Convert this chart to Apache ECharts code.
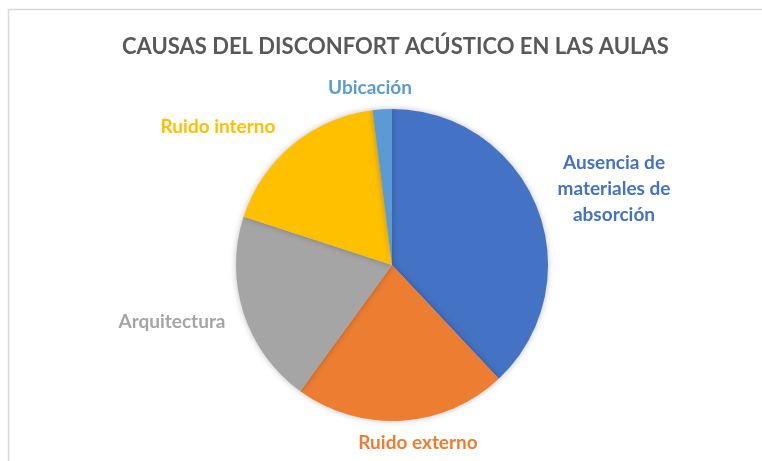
<!DOCTYPE html>
<html lang="es">
<head>
    <meta charset="UTF-8">
    <title>Causas del disconfort acústico</title>
    <style>
        html,body{margin:0;padding:0;background:#fff;}
        #main{width:762px;height:461px;}
    </style>
    <script type="text/javascript" src="https://cdn.jsdelivr.net/npm/echarts@6/dist/echarts.min.js"></script>
</head>
<body>
<div id="main"></div>
<script>
    // datos (porcentajes aprox.)
    let categorias=['Ausencia de\nmateriales de\nabsorción','Ruido externo','Arquitectura','Ruido interno','Ubicación'];
    let valores=[38,22,20,18,2];
    let colores=['#4472c4','#ed7d31','#a5a5a5','#ffc000','#5b9bd5'];

    // posicion de cada etiqueta (como en el original de Excel)
    let posEtiquetas=[[614,189],[418,443],[172,322],[218,127],[370,88]];

    let chart=echarts.init(document.getElementById('main'));

    let data=categorias.map((c,i)=>{
        return{
            name:c,
            value:valores[i],
            itemStyle:{color:colores[i]},
            label:{color:colores[i]}
        }
    });

    let option={
        backgroundColor:'#fff',
        title:{
            text:'CAUSAS DEL DISCONFORT ACÚSTICO EN LAS AULAS',
            left:117,
            top:31,
            textStyle:{
                color:'#595959',
                fontFamily:'Lato',
                fontWeight:'bold',
                fontSize:22
            }
        },
        graphic:[
            {type:'line',shape:{x1:8,y1:9.5,x2:762,y2:9.5},style:{stroke:'#d9d9d9',lineWidth:1.5}},
            {type:'line',shape:{x1:8.5,y1:9,x2:8.5,y2:461},style:{stroke:'#d9d9d9',lineWidth:1.5}}
        ],
        series:[
            {
                type:'pie',
                center:[392,265],
                radius:156,
                startAngle:90,
                clockwise:true,
                animation:false,
                itemStyle:{
                    borderWidth:0,
                    shadowBlur:6,
                    shadowColor:'rgba(0,0,0,0.25)'
                },
                label:{
                    show:true,
                    position:'outside',
                    fontFamily:'Lato',
                    fontWeight:'bold',
                    fontSize:19,
                    lineHeight:26,
                    align:'center',
                    formatter:'{b}'
                },
                labelLine:{show:false},
                labelLayout:function(p){
                    let pos=posEtiquetas[p.dataIndex];
                    return{
                        x:pos[0],
                        y:pos[1],
                        align:'center',
                        verticalAlign:'middle'
                    }
                },
                emphasis:{disabled:true},
                data:data
            }
        ]
    };
    chart.setOption(option);
</script>
</body>
</html>
